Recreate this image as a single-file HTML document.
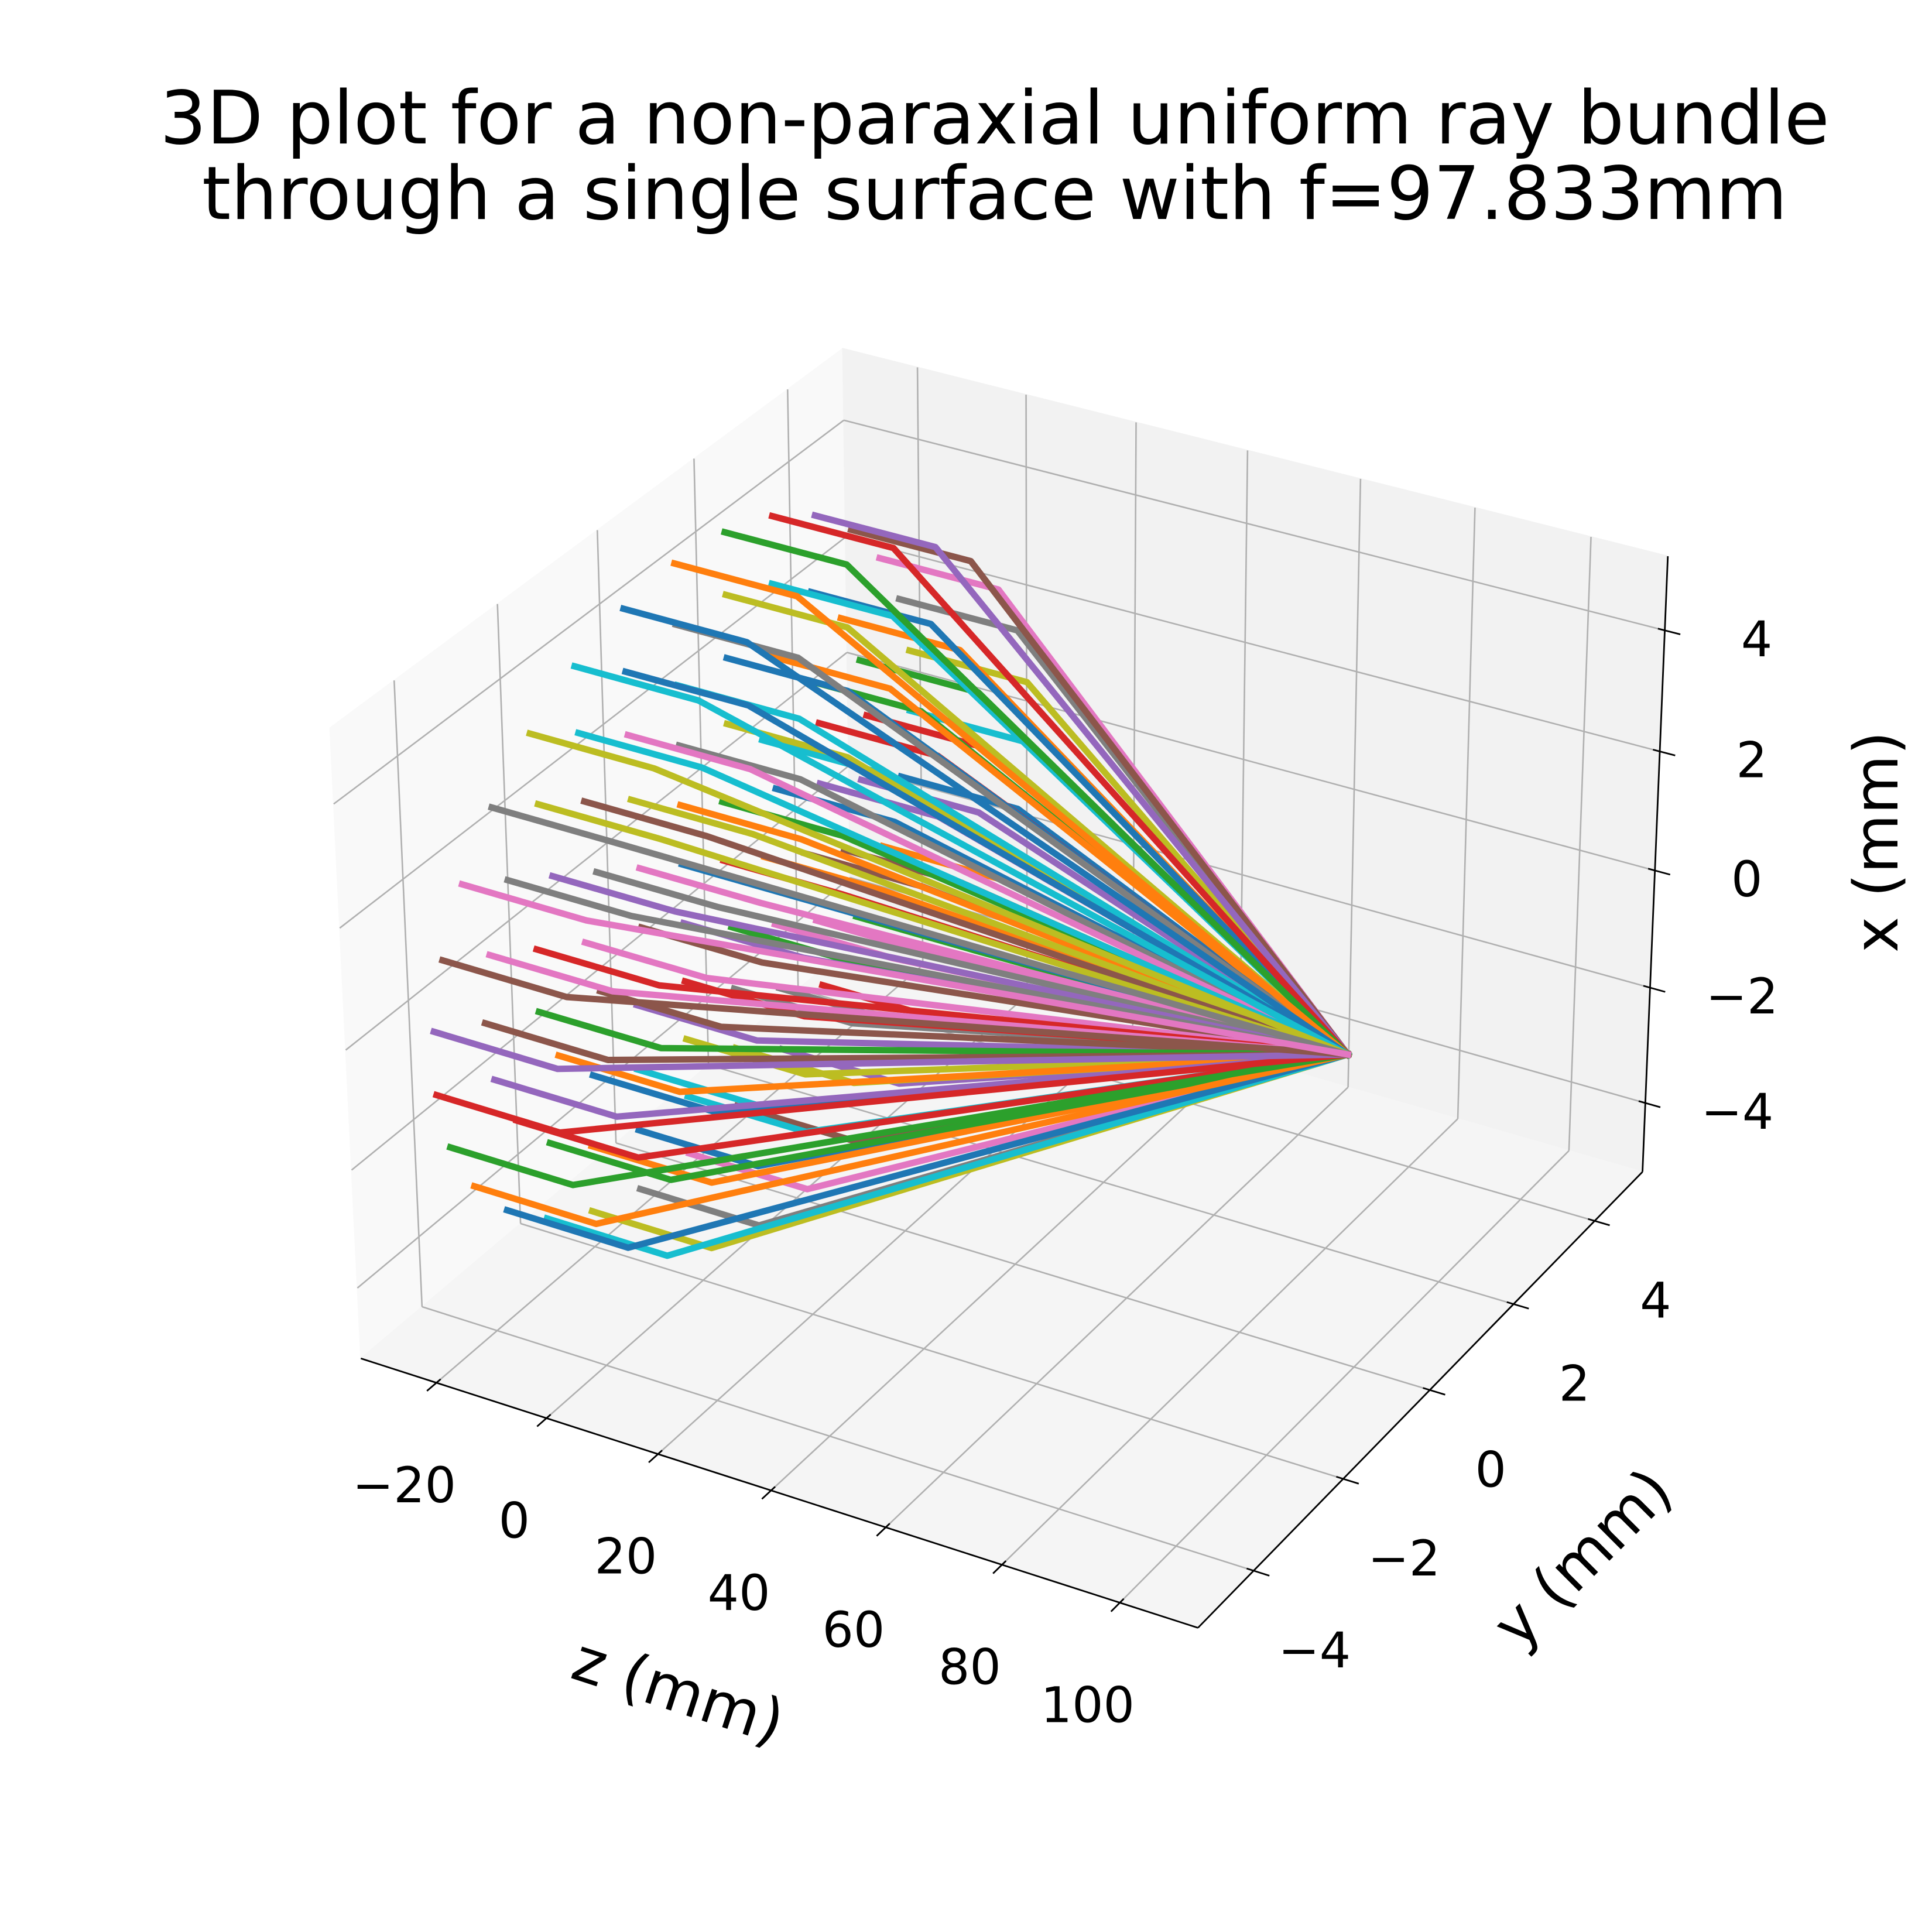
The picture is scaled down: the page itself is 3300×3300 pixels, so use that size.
<!DOCTYPE html>
<html><head><meta charset="utf-8"><style>
html,body{margin:0;padding:0;background:#fff;}
svg{display:block;font-family:"DejaVu Sans","Liberation Sans",sans-serif;}
</style></head><body>
<svg id="chart" xmlns="http://www.w3.org/2000/svg" width="3300" height="3300" viewBox="0 0 3300 3300">
<rect x="0" y="0" width="3300" height="3300" fill="#fff"/>
<text x="1699" y="245" font-size="126" text-anchor="middle" textLength="2852" lengthAdjust="spacingAndGlyphs">3D plot for a non-paraxial uniform ray bundle</text>
<text x="1699" y="374" font-size="126" text-anchor="middle" textLength="2708" lengthAdjust="spacingAndGlyphs">through a single surface with f=97.833mm</text>
<g id="panes"></g><g id="grid"></g><g id="axes"></g><g id="rays"></g><g id="labels"></g>
<text x="1159" y="2888" font-size="104" text-anchor="middle" dominant-baseline="central" transform="rotate(18 1159 2888)">z (mm)</text>
<text x="2703" y="2661" font-size="104" text-anchor="middle" dominant-baseline="central" transform="rotate(-45 2703 2661)">y (mm)</text>
<text x="3205" y="1438" font-size="104" text-anchor="middle" dominant-baseline="central" transform="rotate(-90 3205 1438)">x (mm)</text>
</svg>
<script>
// ---- data ----
const ringRadii = [0, 1, 2, 3, 4, 5];
const ringCounts = [1, 6, 12, 18, 24, 30];
const zPlanes = [-20, 2, 97.833]; // start, surface, focal plane
const zTicks = [-20, 0, 20, 40, 60, 80, 100];
const yTicks = [-4, -2, 0, 2, 4];
const xTicks = [-4, -2, 0, 2, 4];
const tickLabelsZ = ["\u221220", "0", "20", "40", "60", "80", "100"];
const tickLabelsY = ["\u22124", "\u22122", "0", "2", "4"];
const tickLabelsX = ["\u22124", "\u22122", "0", "2", "4"];
const colors = ["#1f77b4","#ff7f0e","#2ca02c","#d62728","#9467bd","#8c564b","#e377c2","#7f7f7f","#bcbd22","#17becf"];
const A0=-33.9, A1=113.1, B0=-5.21, B1=5.21, C0=-5.21, C1=5.21;

const NS="http://www.w3.org/2000/svg";
const el=(tag,attrs,parent)=>{const e=document.createElementNS(NS,tag);for(const k in attrs)e.setAttribute(k,attrs[k]);parent.appendChild(e);return e;};

const asp=[4,4,3];const an=Math.hypot(...asp);const ab=asp.map(v=>v*1.8294640721620434/an);
const el_=30*Math.PI/180, az=-60*Math.PI/180, dist=10;
const ps=[Math.cos(el_)*Math.cos(az),Math.cos(el_)*Math.sin(az),Math.sin(el_)];
const R=ab.map(v=>v/2);const E=R.map((r,i)=>r+dist*ps[i]);
const w=ps; let u=[-w[1],w[0],0];const un=Math.hypot(...u);u=u.map(v=>v/un);
const v=[w[1]*u[2]-w[2]*u[1],w[2]*u[0]-w[0]*u[2],w[0]*u[1]-w[1]*u[0]];
const dot=(a,b)=>a[0]*b[0]+a[1]*b[1]+a[2]*b[2];
function raw(a,b,c){const p=[(a-A0)/(A1-A0)*ab[0],(b-B0)/(B1-B0)*ab[1],(c-C0)/(C1-C0)*ab[2]];
 const d=p.map((q,i)=>q-E[i]);const wz=dot(w,d);return [dot(u,d)/(-wz),dot(v,d)/(-wz),wz];}
const marks=[[[A0,B0,C0],[612,2314]],[[A1,B0,C0],[2050,2788]],[[A1,B1,C0],[2805,1998]],[[A1,B1,C1],[2846,947]],[[A0,B0,C1],[565,1244]],[[A0,B1,C1],[1442,600]]];
function solve3(M,r){const m=M.map((row,i)=>[...row,r[i]]);for(let i=0;i<3;i++){let p=i;for(let k=i+1;k<3;k++)if(Math.abs(m[k][i])>Math.abs(m[p][i]))p=k;[m[i],m[p]]=[m[p],m[i]];for(let k=0;k<3;k++){if(k===i)continue;const f=m[k][i]/m[i][i];for(let j=i;j<4;j++)m[k][j]-=f*m[i][j];}}return m.map((row,i)=>row[3]/row[i]);}
function fit(idx){const N=[[0,0,0],[0,0,0],[0,0,0]],r=[0,0,0];marks.forEach(([d,px])=>{const q=raw(...d);const f=[q[0],q[1],1];for(let i=0;i<3;i++){r[i]+=f[i]*px[idx];for(let j=0;j<3;j++)N[i][j]+=f[i]*f[j];}});return solve3(N,r);}
const fx=fit(0), fy=fit(1);
function P(a,b,c){const q=raw(a,b,c);return [fx[0]*q[0]+fx[1]*q[1]+fx[2],fy[0]*q[0]+fy[1]*q[1]+fy[2],q[2]];}
const pts=arr=>arr.map(p=>p[0].toFixed(1)+","+p[1].toFixed(1)).join(" ");

const gP=document.getElementById("panes");
const paneL=el("polygon",{points:pts([P(A0,B0,C0),P(A0,B0,C1),P(A0,B1,C1),P(A0,B1,C0)]),fill:"#f9f9f9",stroke:"#f9f9f9","stroke-width":2},gP);


const paneB=el("polygon",{points:pts([P(A0,B1,C0),P(A1,B1,C0),P(A1,B1,C1),P(A0,B1,C1)]),fill:"#f2f2f2",stroke:"#f2f2f2","stroke-width":2},gP);


const paneF=el("polygon",{points:pts([P(A0,B0,C0),P(A1,B0,C0),P(A1,B1,C0),P(A0,B1,C0)]),fill:"#f5f5f5",stroke:"#f5f5f5","stroke-width":2},gP);



const gG=document.getElementById("grid");
function gl(p1,p2,name){const l=el("line",{x1:p1[0],y1:p1[1],x2:p2[0],y2:p2[1],stroke:"#b0b0b0","stroke-width":2.6},gG);

}
zTicks.forEach(t=>{gl(P(t,B0,C0),P(t,B1,C0),'z-gridline');gl(P(t,B1,C0),P(t,B1,C1),'z-gridline');});
yTicks.forEach(t=>{gl(P(A0,t,C0),P(A1,t,C0),'y-gridline');gl(P(A0,t,C0),P(A0,t,C1),'y-gridline');});
xTicks.forEach(t=>{gl(P(A0,B0,t),P(A0,B1,t),'x-gridline');gl(P(A0,B1,t),P(A1,B1,t),'x-gridline');});

const gA=document.getElementById("axes"), gL=document.getElementById("labels");
function al(p1,p2,name){const l=el("line",{x1:p1[0],y1:p1[1],x2:p2[0],y2:p2[1],stroke:"#000","stroke-width":2.8},gA);

}
al(P(A0,B0,C0),P(A1,B0,C0),'z-axis-line');
al(P(A1,B0,C0),P(A1,B1,C0),'y-axis-line');
al(P(A1,B1,C0),P(A1,B1,C1),'x-axis-line');
function lab(p,dx,dy,txt,name){const t=el("text",{x:(p[0]+dx).toFixed(1),y:(p[1]+dy).toFixed(1),"font-size":84,"text-anchor":"middle","dominant-baseline":"central"},gL);t.textContent=txt;

}
const dB=B1-B0, dA=A1-A0;
zTicks.forEach((t,i)=>{al(P(t,B0+0.008*dB,C0),P(t,B0-0.018*dB,C0),'z-tick');lab(P(t,B0,C0),-55,175,tickLabelsZ[i],'z-tick-label');});
yTicks.forEach((t,i)=>{al(P(A1-0.008*dA,t,C0),P(A1+0.018*dA,t,C0),'y-tick');lab(P(A1,t,C0),104,136,tickLabelsY[i],'y-tick-label');});
xTicks.forEach((t,i)=>{al(P(A1-0.008*dA,B1,t),P(A1+0.018*dA,B1,t),'x-tick');lab(P(A1,B1,t),157,15,tickLabelsX[i],'x-tick-label');});

const rays=[];
ringRadii.forEach((r,ri)=>{for(let k=0;k<ringCounts[ri];k++){const th=2*Math.PI*k/ringCounts[ri];rays.push({x:r*Math.cos(th),y:r*Math.sin(th)});}});
const gR=document.getElementById("rays");
const drawn=rays.map((ry,i)=>{const p0=P(zPlanes[0],ry.y,ry.x),p1=P(zPlanes[1],ry.y,ry.x),p2=P(zPlanes[2],0,0);return {i,pts:[p0,p1,p2],depth:p0[2]};});
drawn.sort((a,b)=>a.depth-b.depth);
drawn.forEach(d=>{const l=el("polyline",{points:pts(d.pts),fill:"none",stroke:colors[d.i%10],"stroke-width":11,"stroke-linejoin":"round","stroke-linecap":"square"},gR);

});
</script>
</body></html>
